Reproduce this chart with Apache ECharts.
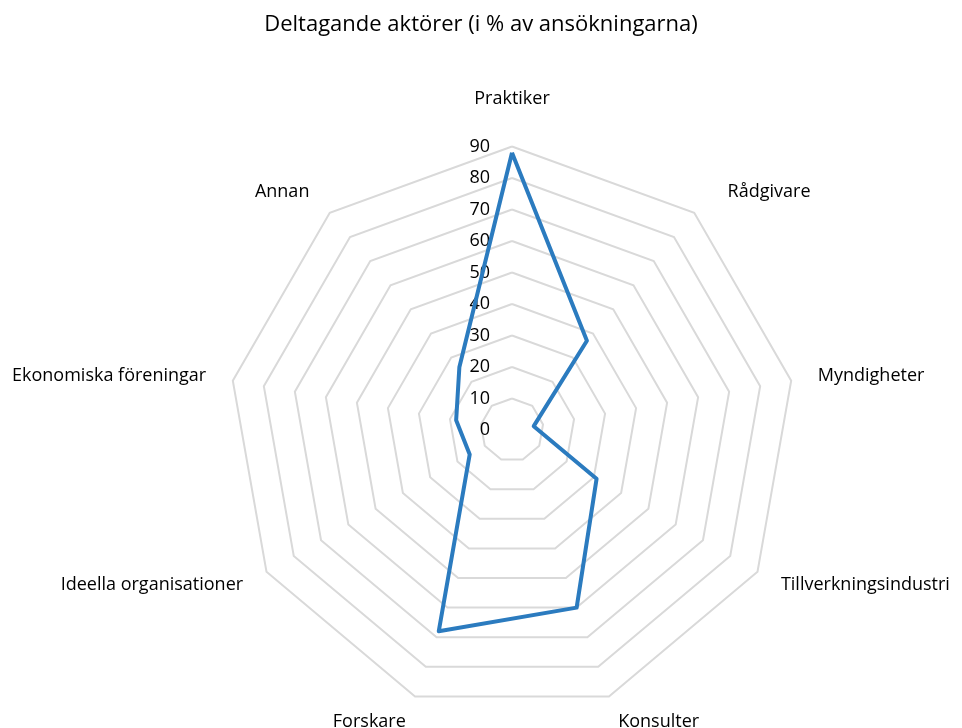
<!DOCTYPE html>
<html>
<head>
<meta charset="utf-8">
<title>Deltagande aktörer</title>
<script src="https://cdn.jsdelivr.net/npm/echarts@6/dist/echarts.min.js"></script>
<style>
  html, body { margin: 0; padding: 0; background: #fff; }
  #chart { width: 962px; height: 728px; }
</style>
</head>
<body>
<div id="chart"></div>
<script>
// Aktörer, medurs från toppen
var actors = ['Praktiker', 'Rådgivare', 'Myndigheter', 'Tillverkningsindustri', 'Konsulter',
  'Forskare', 'Ideella organisationer', 'Ekonomiska föreningar', 'Annan'];
var shares = [88, 37, 7, 31, 60, 68, 15.5, 18, 26];
var maxValue = 90;

// ECharts ritar radaraxlarna moturs, så vänd ordningen men behåll första överst
var order = [0];
for (var i = actors.length - 1; i > 0; i--) order.push(i);

var indicators = order.map(function (idx, n) {
  var ind = { name: actors[idx], min: 0, max: maxValue };
  if (n === 0) {
    ind.axisLabel = { show: true };
  }
  return ind;
});
var values = order.map(function (idx) { return shares[idx]; });

// några etiketter sitter lite annorlunda i originalet
var nameStyle = { 'Praktiker': 'top', 'Rådgivare': 'right', 'Annan': 'left' };
var richBase = { fontSize: 18, color: '#000', fontFamily: 'Open Sans' };

var chart = echarts.init(document.getElementById('chart'));
chart.setOption({
  animation: false,
  textStyle: { fontFamily: 'Open Sans' },
  title: {
    text: 'Deltagande aktörer (i % av ansökningarna)',
    left: 'center',
    top: 9,
    textStyle: { fontFamily: 'Open Sans', fontSize: 22, fontWeight: 'normal', color: '#000' }
  },
  radar: {
    center: [512, 430],
    radius: 283.5,
    startAngle: 90,
    shape: 'polygon',
    splitNumber: 9,
    indicator: indicators,
    axisName: {
      color: '#000',
      fontSize: 18,
      fontFamily: 'Open Sans',
      formatter: function (name) {
        return nameStyle[name] ? '{' + nameStyle[name] + '|' + name + '}' : name;
      },
      rich: {
        top: Object.assign({ padding: [0, 0, 12, 0] }, richBase),
        right: Object.assign({ padding: [0, 0, 0, 16] }, richBase),
        left: Object.assign({ padding: [0, 3, 0, 0] }, richBase)
      }
    },
    nameGap: 27,
    axisLine: { show: false },
    axisTick: { show: false },
    axisLabel: { show: false, color: '#000', fontSize: 18, fontFamily: 'Open Sans', margin: 22 },
    splitArea: { show: false },
    splitLine: { lineStyle: { color: '#d9d9d9', width: 2 } }
  },
  series: [{
    type: 'radar',
    symbol: 'none',
    lineStyle: { color: '#2b7bbf', width: 4 },
    data: [{ value: values, name: 'Andel' }]
  }]
});
</script>
</body>
</html>
